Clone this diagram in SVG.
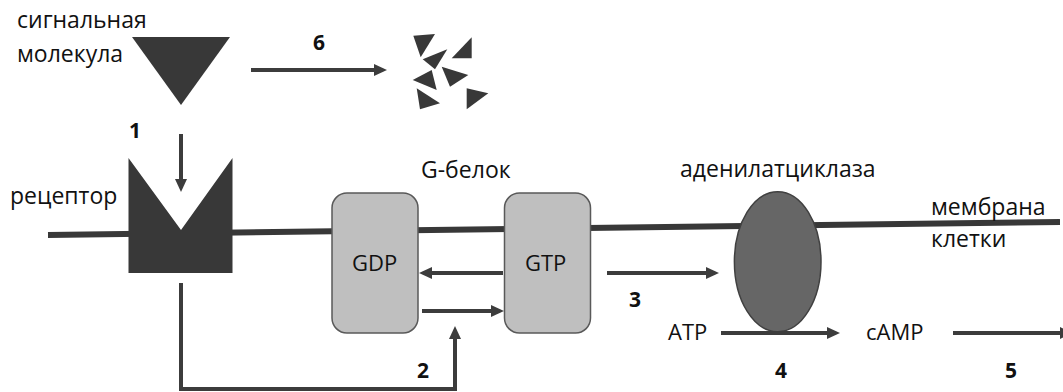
<svg xmlns="http://www.w3.org/2000/svg" width="1063" height="392" viewBox="0 0 1063 392">
<style>
  .lbl { font-family: "Open Sans", "Liberation Sans", sans-serif; font-size: 23px; fill: #111; }
  .lat { font-family: "Open Sans", "Liberation Sans", sans-serif; font-size: 22px; fill: #111; }
  .num { font-family: "Open Sans", "Liberation Sans", sans-serif; font-size: 21px; font-weight: bold; fill: #111; }
  .dark { fill: #383838; }
  .box { fill: #bfbfbf; stroke: #595959; stroke-width: 1.5; }
  .conn { fill: none; stroke: #3c3c3c; stroke-width: 4; marker-end: url(#ah); }
</style>
<defs>
  <marker id="ah" markerUnits="userSpaceOnUse" markerWidth="14" markerHeight="12" refX="5" refY="6" orient="auto">
    <path d="M0,0 L13,6 L0,12 Z" fill="#3c3c3c"/>
  </marker>
</defs>
<rect width="1063" height="392" fill="#fff"/>

<g id="membrane">
  <line x1="48" y1="235" x2="1060" y2="222" stroke="#383838" stroke-width="6"/>
  <text class="lbl" x="931" y="215">мембрана</text>
  <text class="lbl" x="931" y="247">клетки</text>
</g>

<g id="signal">
  <polygon class="dark" points="132,37 230,37 181,105"/>
  <text class="lbl" x="17" y="28">сигнальная</text>
  <text class="lbl" x="17" y="62">молекула</text>
</g>

<g id="fragments">
  <polygon class="dark" points="413.3,35.7 435,34 420.7,57.3"/>
  <polygon class="dark" points="471.7,37.3 471.7,58.3 451.7,58.3"/>
  <polygon class="dark" points="422.7,59.3 447.3,49.3 435,69.3"/>
  <polygon class="dark" points="412.7,80 431.7,70 436.7,90"/>
  <polygon class="dark" points="441.7,66.7 468.3,75 450,86.7"/>
  <polygon class="dark" points="416.7,88.3 440,103.3 420,109.3"/>
  <polygon class="dark" points="466.7,88.3 488.3,93.3 466.7,109.3"/>
</g>

<g id="receptor">
  <polygon class="dark" points="128.5,158 181,230 232.5,158 232.5,273 128.5,273"/>
  <text class="lbl" x="10" y="204">рецептор</text>
</g>

<g id="gprotein">
  <text class="lbl" x="421" y="178">G-белок</text>
</g>

<g id="gdp">
  <rect class="box" x="332" y="193" width="86" height="140" rx="15"/>
  <text class="lat" x="352" y="271">GDP</text>
</g>

<g id="gtp">
  <rect class="box" x="504.5" y="193" width="86" height="140" rx="15"/>
  <text class="lat" x="525" y="271">GTP</text>
</g>

<g id="adenylate-cyclase">
  <ellipse cx="777.7" cy="261.7" rx="43.3" ry="70" fill="#666666" stroke="#404040" stroke-width="1.5"/>
  <text class="lbl" x="680" y="177">аденилатциклаза</text>
</g>

<g id="atp">
  <text class="lat" x="668" y="340">ATP</text>
</g>

<g id="camp">
  <text class="lat" x="866" y="340">cAMP</text>
</g>

<g id="connectors">
  <line class="conn" x1="251" y1="70" x2="379" y2="70"/>
  <line class="conn" x1="181" y1="134" x2="181" y2="184"/>
  <path class="conn" d="M181,283 V389 H455 V334"/>
  <line class="conn" x1="503" y1="273" x2="427" y2="273"/>
  <line class="conn" x1="422" y1="311" x2="496" y2="311"/>
  <line class="conn" x1="607" y1="273" x2="711" y2="273"/>
  <line class="conn" x1="721" y1="333" x2="832" y2="333"/>
  <line class="conn" x1="953" y1="333" x2="1065" y2="333"/>
  <text class="num" x="313" y="50">6</text>
  <text class="num" x="129" y="138">1</text>
  <text class="num" x="417" y="378">2</text>
  <text class="num" x="629" y="307">3</text>
  <text class="num" x="775" y="378">4</text>
  <text class="num" x="1005" y="378">5</text>
</g>
</svg>
